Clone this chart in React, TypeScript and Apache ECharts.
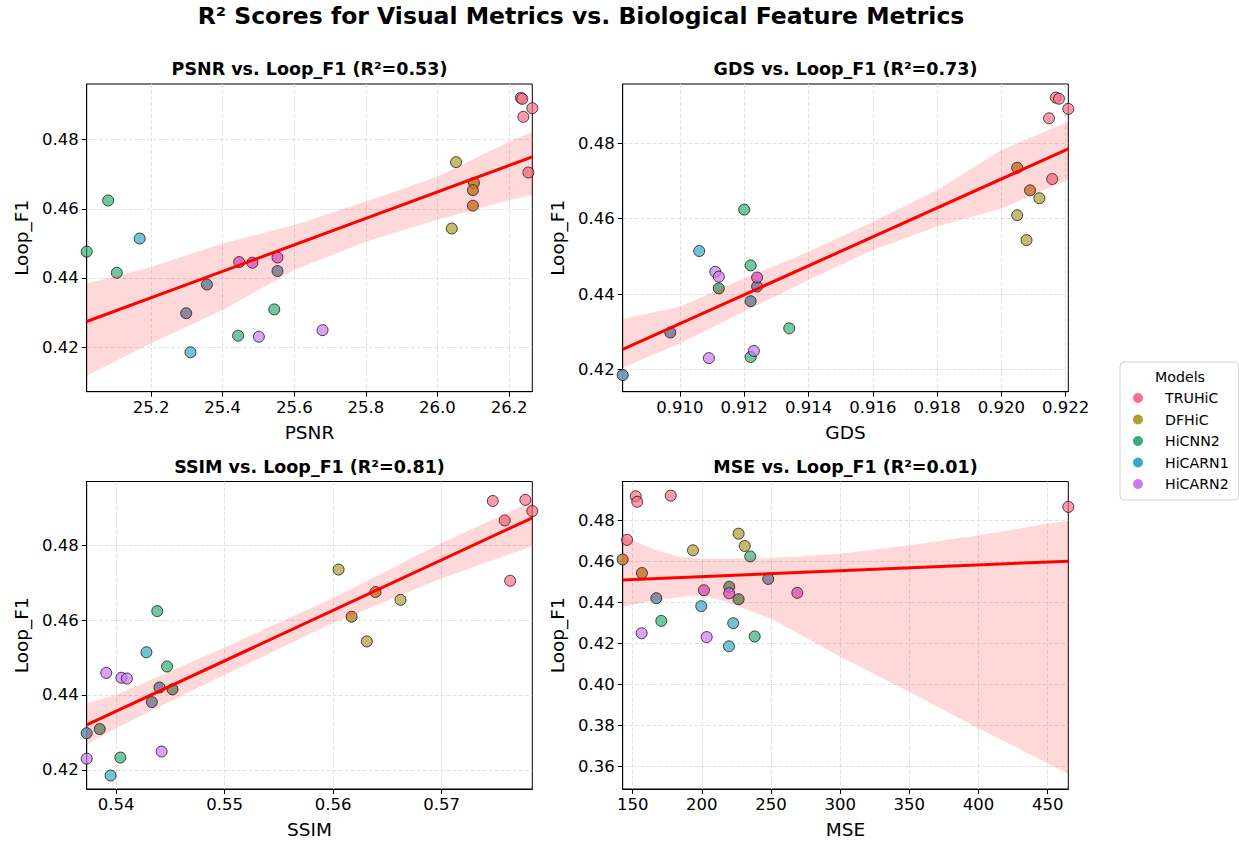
import React, { useEffect, useRef } from 'react';
import * as echarts from 'echarts';

const FONT = 'DejaVu Sans';

const models = ['TRUHiC', 'DFHiC', 'HiCNN2', 'HiCARN1', 'HiCARN2'];
const modelColors = ['#f77189', '#ae9d31', '#33b07a', '#38a9c5', '#cc7af4'];

// one entry per row (model index of each row)
const rowModel = [0, 0, 0, 0, 0, 1, 1, 1, 1, 1, 2, 2, 2, 2, 2, 3, 3, 3, 3, 3, 4, 4, 4, 4, 4];
const loopF1 = [
  0.4921, 0.4918, 0.4891, 0.4866, 0.4705,
  0.4735, 0.4675, 0.4654, 0.4609, 0.4543,
  0.4624, 0.4476, 0.4415, 0.4309, 0.4233,
  0.4514, 0.4420, 0.4381, 0.4298, 0.4185,
  0.4459, 0.4446, 0.4444, 0.4230, 0.4249,
];
const psnr = [
  26.233, 26.237, 26.265, 26.240, 26.254,
  26.052, 26.102, 26.099, 26.099, 26.040,
  25.080, 25.020, 25.104, 25.544, 25.443,
  25.168, 25.553, 25.356, 25.298, 25.310,
  25.553, 25.446, 25.483, 25.501, 25.679,
];
const gds = [
  0.92169, 0.92179, 0.92208, 0.92148, 0.92158,
  0.92049, 0.92089, 0.92118, 0.92049, 0.92078,
  0.91200, 0.91220, 0.91121, 0.91340, 0.91220,
  0.91060, 0.91240, 0.91220, 0.90970, 0.90822,
  0.91110, 0.91121, 0.91240, 0.91090, 0.91230,
];
const ssim = [
  0.5777, 0.5747, 0.57834, 0.5758, 0.5763,
  0.5605, 0.5639, 0.5662, 0.5617, 0.5631,
  0.5438, 0.5447, 0.5452, 0.5385, 0.5404,
  0.5428, 0.5440, 0.5433, 0.5373, 0.5395,
  0.5391, 0.5405, 0.5410, 0.5373, 0.5442,
];
const mse = [
  177.5, 152.2, 153.3, 464.9, 145.9,
  226.6, 231.0, 193.6, 142.8, 156.7,
  235.0, 219.8, 226.6, 170.7, 238.2,
  248.0, 167.1, 199.6, 222.7, 219.6,
  201.5, 269.0, 219.8, 203.5, 156.5,
];

// rows under which a second TRUHiC point lies (visible as blended colours)
const psnrHidden = [6, 7, 8, 16, 17, 18, 20, 21, 22];
const gdsHidden = [5, 6, 12, 16, 17, 18, 19, 22];
const ssimHidden = [6, 8, 12, 13, 16, 17, 18];
const mseHidden = [8, 9, 11, 12, 15, 16, 20, 21, 22];

const r2Scores = [0.53, 0.73, 0.81, 0.01];

// tick labels
const psnrTicks = [25.2, 25.4, 25.6, 25.8, 26.0, 26.2];
const gdsTicks = [0.91, 0.912, 0.914, 0.916, 0.918, 0.92, 0.922];
const ssimTicks = [0.54, 0.55, 0.56, 0.57];
const mseTicks = [150, 200, 250, 300, 350, 400, 450];
const f1Ticks = [0.42, 0.44, 0.46, 0.48];
const f1TicksMse = [0.36, 0.38, 0.4, 0.42, 0.44, 0.46, 0.48];
const yLimits = [[0.4071, 0.4961], [0.4141, 0.4957], [0.4149, 0.497], [0.3488, 0.499]];

// regression fits (line ends) and confidence bands
const psnrFit = [[25.02, 0.4274], [26.265, 0.475]];
const gdsFit = [[0.90822, 0.4253], [0.92208, 0.4785]];
const ssimFit = [[0.5373, 0.432], [0.57834, 0.4873]];
const mseFit = [[142.8, 0.4509], [464.9, 0.4601]];

const psnrBandX = [25.02, 25.2, 25.4, 25.6, 25.8, 26.0, 26.2, 26.265];
const psnrBandLo = [0.4117, 0.4211, 0.4307, 0.4423, 0.4505, 0.4568, 0.4625, 0.464];
const psnrBandHi = [0.4384, 0.4432, 0.45, 0.4553, 0.4621, 0.4693, 0.4794, 0.4823];
const gdsBandX = [0.90822, 0.91, 0.912, 0.914, 0.916, 0.918, 0.92, 0.92208];
const gdsBandLo = [0.4205, 0.4269, 0.4354, 0.4437, 0.4517, 0.4579, 0.4627, 0.4703];
const gdsBandHi = [0.4334, 0.4366, 0.4442, 0.4512, 0.4592, 0.4676, 0.4782, 0.4857];
const ssimBandX = [0.5373, 0.54, 0.55, 0.56, 0.57, 0.57834];
const ssimBandLo = [0.4267, 0.4311, 0.4454, 0.4592, 0.4712, 0.4797];
const ssimBandHi = [0.4378, 0.44, 0.4527, 0.4659, 0.4806, 0.4917];
const mseBandX = [142.8, 167.3, 184.2, 200.1, 218.0, 250.2, 300.4, 350.2, 400.1, 450.0, 464.9];
const mseBandLo = [0.438, 0.441, 0.4426, 0.4434, 0.4401, 0.432, 0.4133, 0.3962, 0.3784, 0.3613, 0.3561];
const mseBandHi = [0.4722, 0.4654, 0.4621, 0.4613, 0.4613, 0.4616, 0.4637, 0.4678, 0.4727, 0.4784, 0.48];

const panels = [
  { name: 'PSNR', xs: psnr, hidden: psnrHidden, ticks: psnrTicks, dec: 1, yTicks: f1Ticks, fit: psnrFit, bx: psnrBandX, blo: psnrBandLo, bhi: psnrBandHi },
  { name: 'GDS', xs: gds, hidden: gdsHidden, ticks: gdsTicks, dec: 3, yTicks: f1Ticks, fit: gdsFit, bx: gdsBandX, blo: gdsBandLo, bhi: gdsBandHi },
  { name: 'SSIM', xs: ssim, hidden: ssimHidden, ticks: ssimTicks, dec: 2, yTicks: f1Ticks, fit: ssimFit, bx: ssimBandX, blo: ssimBandLo, bhi: ssimBandHi },
  { name: 'MSE', xs: mse, hidden: mseHidden, ticks: mseTicks, dec: 0, yTicks: f1TicksMse, fit: mseFit, bx: mseBandX, blo: mseBandLo, bhi: mseBandHi },
];

const gridRects = [
  { left: 86.7, top: 84, width: 445.6, height: 307.7 },
  { left: 622.7, top: 84, width: 445.6, height: 307.7 },
  { left: 86.7, top: 481.5, width: 445.6, height: 307.5 },
  { left: 622.7, top: 481.5, width: 445.6, height: 307.5 },
];

function buildOption() {
  const grid: any[] = [];
  const xAxis: any[] = [];
  const yAxis: any[] = [];
  const series: any[] = [];
  const title: any[] = [
    {
      text: 'R² Scores for Visual Metrics vs. Biological Feature Metrics',
      left: 581, top: 4, textAlign: 'center', padding: 0,
      textStyle: { fontFamily: FONT, fontSize: 23.5, fontWeight: 'bold', color: '#000' },
    },
  ];
  const gridLine = { show: true, lineStyle: { color: '#dadada', width: 0.8, type: [4, 2] } };

  panels.forEach((p, i) => {
    const g = gridRects[i];
    grid.push({ ...g, show: true, borderColor: '#000', borderWidth: 1, backgroundColor: 'transparent' });
    title.push({
      text: `${p.name} vs. Loop_F1 (R²=${r2Scores[i].toFixed(2)})`,
      left: g.left + g.width / 2, top: g.top - 24, textAlign: 'center', padding: 0,
      textStyle: { fontFamily: FONT, fontSize: 17.5, fontWeight: 'bold', color: '#000' },
    });
    xAxis.push({
      type: 'value', gridIndex: i,
      min: Math.min(...p.xs), max: Math.max(...p.xs),
      name: p.name, nameLocation: 'middle', nameGap: 31,
      nameTextStyle: { fontFamily: FONT, fontSize: 18.5, color: '#000' },
      axisLine: { show: true, onZero: false, lineStyle: { color: '#000', width: 1 } },
      axisTick: { show: true, length: 5, lineStyle: { color: '#000', width: 1 }, customValues: p.ticks },
      axisLabel: {
        customValues: p.ticks, margin: 7,
        formatter: (v: number) => v.toFixed(p.dec),
        fontFamily: FONT, fontSize: 16.5, color: '#000',
      },
      splitLine: gridLine,
    });
    yAxis.push({
      type: 'value', gridIndex: i,
      min: yLimits[i][0], max: yLimits[i][1],
      name: 'Loop_F1', nameLocation: 'middle', nameGap: 56, nameRotate: 90,
      nameTextStyle: { fontFamily: FONT, fontSize: 18.5, color: '#000' },
      axisLine: { show: true, onZero: false, lineStyle: { color: '#000', width: 1 } },
      axisTick: { show: true, length: 5, lineStyle: { color: '#000', width: 1 }, customValues: p.yTicks },
      axisLabel: {
        customValues: p.yTicks, margin: 8,
        formatter: (v: number) => v.toFixed(2),
        fontFamily: FONT, fontSize: 16.5, color: '#000',
      },
      splitLine: gridLine,
    });

    // hidden TRUHiC points beneath
    series.push({
      type: 'scatter', name: 'TRUHiC', xAxisIndex: i, yAxisIndex: i, z: 1,
      symbolSize: 11, silent: true,
      itemStyle: { color: modelColors[0], borderWidth: 0, opacity: 0.7 },
      data: p.hidden.map((r) => [p.xs[r], loopF1[r]]),
    });
    models.forEach((m, mi) => {
      const data: number[][] = [];
      rowModel.forEach((rm, r) => { if (rm === mi) data.push([p.xs[r], loopF1[r]]); });
      series.push({
        type: 'scatter', name: m, xAxisIndex: i, yAxisIndex: i, z: 2,
        symbolSize: 11,
        itemStyle: { color: modelColors[mi], borderColor: '#000', borderWidth: 1, opacity: 0.7 },
        data,
      });
    });
    const bx = p.bx, blo = p.blo, bhi = p.bhi;
    series.push({
      type: 'custom', name: 'CI', xAxisIndex: i, yAxisIndex: i, z: 3, silent: true,
      data: bx.map((x, k) => [x, blo[k], bhi[k]]),
      encode: { x: 0, y: [1, 2] },
      renderItem: (params: any, api: any) => {
        if (params.dataIndex !== 0) return { type: 'group', children: [] };
        const upper = bx.map((x, k) => api.coord([x, bhi[k]]));
        const lower = bx.map((x, k) => api.coord([x, blo[k]])).reverse();
        return {
          type: 'polygon',
          shape: { points: upper.concat(lower) },
          style: { fill: 'rgba(255,0,0,0.15)', stroke: 'none' },
        };
      },
    });
    series.push({
      type: 'line', name: 'Fit', xAxisIndex: i, yAxisIndex: i, z: 4, silent: true,
      symbol: 'none', lineStyle: { color: '#ff0000', width: 3 },
      data: p.fit,
    });
  });

  return {
    animation: false,
    textStyle: { fontFamily: FONT },
    title,
    grid,
    xAxis,
    yAxis,
    series,
    legend: {
      data: models, orient: 'vertical', left: 1120, top: 362,
      padding: [27, 10, 7, 13], itemGap: 3.5, itemWidth: 10, itemHeight: 10, icon: 'circle',
      textStyle: { fontFamily: FONT, fontSize: 14.2, color: '#000', lineHeight: 18, padding: [0, 0, 0, 17] },
      itemStyle: { opacity: 1, borderWidth: 0 },
      backgroundColor: '#fff', borderColor: '#d0d0d0', borderWidth: 1, borderRadius: 4,
      selectedMode: false,
    },
    graphic: [
      {
        type: 'text', x: 1180, y: 377, z: 100,
        style: { text: 'Models', fontFamily: FONT, fontSize: 14.2, fill: '#000', align: 'center', verticalAlign: 'middle' },
      },
    ],
  };
}

export default function App() {
  const ref = useRef<HTMLDivElement>(null);
  useEffect(() => {
    if (!ref.current) return;
    const chart = echarts.init(ref.current, undefined, { renderer: 'svg' });
    chart.setOption(buildOption() as any);
    return () => chart.dispose();
  }, []);
  return <div ref={ref} style={{ position: 'absolute', left: 0, top: 0, width: 1239, height: 841, background: '#fff' }} />;
}
